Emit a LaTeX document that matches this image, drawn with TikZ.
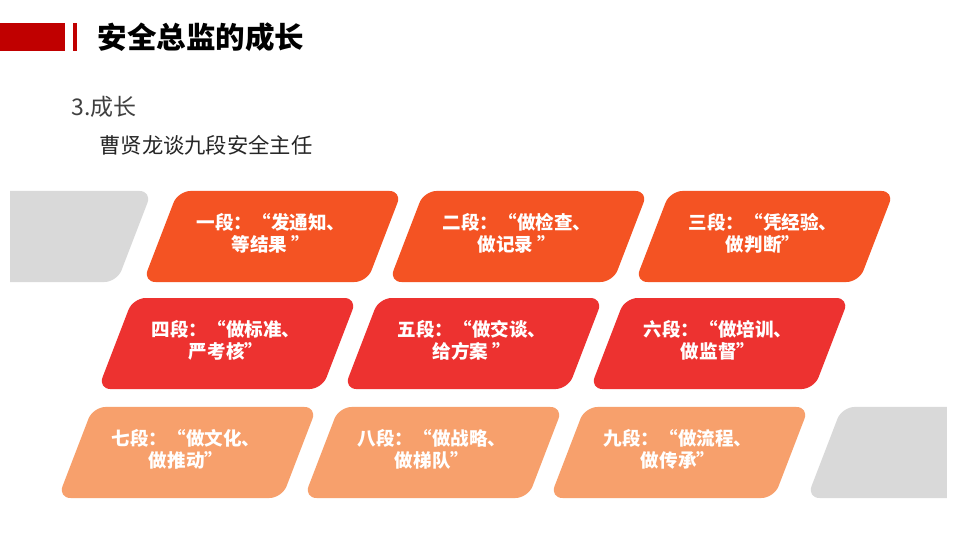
\documentclass[tikz,border=0pt]{standalone}
\usepackage{fontspec}
\setmainfont{Noto Sans CJK SC}
\usepackage{tikz}
\definecolor{hdred}{RGB}{192,0,0}
\definecolor{rowa}{RGB}{244,83,35}
\definecolor{rowb}{RGB}{237,50,48}
\definecolor{rowc}{RGB}{247,160,108}
\definecolor{plategray}{RGB}{217,217,217}
\newcommand{\plate}[3]{\fill[#3, rounded corners=6pt] (#1,#2) -- ++(3.733,0) -- ++(-0.583,-1.517) -- ++(-3.733,0) -- cycle;}

\begin{document}
\begin{tikzpicture}[scale=1.0,
    segtext/.style={text=white, align=center, font=\bfseries\fontsize{8.8pt}{10.4pt}\selectfont},
    headtext/.style={anchor=west, inner sep=0pt}]
  \fill[white] (0,0) rectangle (16,9);
  \useasboundingbox (0,0) rectangle (16,9);

  % header
  \fill[hdred] (0,8.617) rectangle (1.083,8.15);
  \fill[hdred] (1.217,8.617) rectangle (1.283,8.15);
  \node[headtext, font=\bfseries\fontsize{14pt}{16pt}\selectfont] (title) at (1.62,8.383) {安全总监的成长};
  \node[headtext, text=black!75, font=\fontsize{10.9pt}{13pt}\selectfont] (sub) at (1.19,7.217) {3.成长};
  \node[headtext, text=black!85, font=\fontsize{10.1pt}{12pt}\selectfont] (subtwo) at (1.65,6.583) {曹贤龙谈九段安全主任};

  % grey ends, cut at the page margins
  \begin{scope}
    \clip (0.167,0) rectangle (15.783,9);
    \plate{-1.2}{5.817}{plategray}
    \plate{14.033}{2.217}{plategray}
  \end{scope}

  % nine segments
  \foreach \x/\y/\c/\n/\t in {
    2.967/5.817/rowa/d1/{一段：“发通知、\\等结果 ”},
    7.067/5.817/rowa/d2/{二段：“做检查、\\做记录 ”},
    11.167/5.817/rowa/d3/{三段：“凭经验、\\做判断”},
    2.217/4.033/rowb/d4/{四段：“做标准、\\严考核”},
    6.317/4.033/rowb/d5/{五段：“做交谈、\\给方案 ”},
    10.417/4.033/rowb/d6/{六段：“做培训、\\做监督”},
    1.55/2.217/rowc/d7/{七段：“做文化、\\做推动”},
    5.65/2.217/rowc/d8/{八段：“做战略、\\做梯队”},
    9.75/2.217/rowc/d9/{九段：“做流程、\\做传承”}}
  {
    \plate{\x}{\y}{\c}
    \node[segtext] (\n) at (\x+1.55,\y-0.7) {\t};
  }
\end{tikzpicture}
\end{document}
